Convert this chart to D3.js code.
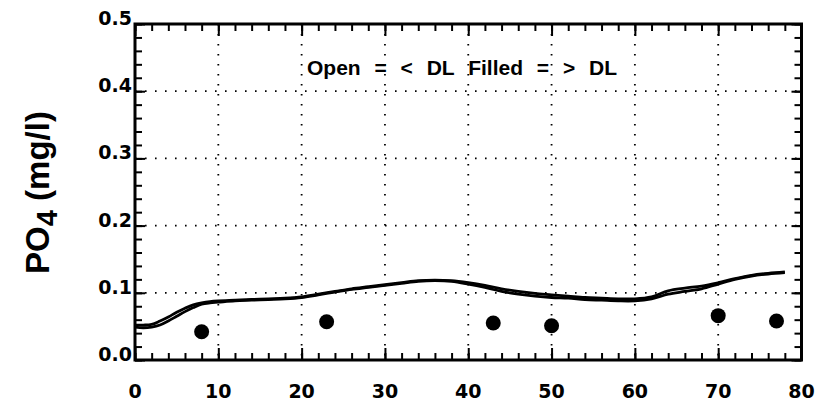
<!DOCTYPE html>
<html>
<head>
<meta charset="utf-8">
<script src="https://cdn.jsdelivr.net/npm/d3@7"></script>
<style>
  body { margin: 0; background: #fff; }
  svg { display: block; }
</style>
</head>
<body>
<svg id="chart" width="825" height="409"></svg>
<script>
// Distance along the profile and modelled PO4 (mg/l), two overlapping model runs
const distance = [0, 1, 2, 3, 4, 5, 6, 7, 8, 9, 10, 12, 14, 16, 18, 20, 22, 24, 26, 28, 30,
  32, 34, 36, 38, 40, 42, 44, 46, 48, 50, 52, 54, 56, 58, 60, 62, 64, 66, 68, 70, 72, 74, 76, 78];
const po4RunA = [0.052, 0.052, 0.053, 0.058, 0.064, 0.071, 0.077, 0.082, 0.085, 0.087, 0.088, 0.089, 0.090, 0.091, 0.092,
  0.094, 0.098, 0.102, 0.106, 0.109, 0.112, 0.115, 0.118, 0.119, 0.118, 0.115, 0.111, 0.106, 0.102, 0.099,
  0.097, 0.095, 0.093, 0.092, 0.091, 0.091, 0.094, 0.103, 0.107, 0.110, 0.115, 0.121, 0.126, 0.129, 0.131];
const po4RunB = [0.049, 0.048, 0.049, 0.052, 0.058, 0.065, 0.072, 0.078, 0.083, 0.085, 0.086, 0.088, 0.089, 0.090, 0.091,
  0.093, 0.097, 0.101, 0.105, 0.108, 0.111, 0.114, 0.117, 0.118, 0.117, 0.113, 0.108, 0.102, 0.098, 0.095,
  0.093, 0.092, 0.090, 0.089, 0.088, 0.088, 0.091, 0.098, 0.102, 0.106, 0.113, 0.120, 0.125, 0.128, 0.130];

// Measured samples (all above detection limit)
const sampleDistance = [8, 23, 43, 50, 70, 77];
const samplePO4 = [0.042, 0.057, 0.055, 0.051, 0.066, 0.058];

// Axis ticks and labels
const xTicks = [0, 10, 20, 30, 40, 50, 60, 70, 80];
const yTicks = [0, 0.1, 0.2, 0.3, 0.4, 0.5];
const yTickLabels = ["0.0", "0.1", "0.2", "0.3", "0.4", "0.5"];
const xGrid = [10, 20, 30, 40, 50, 60, 70];
const yGrid = [0.1, 0.2, 0.3, 0.4];

const svg = d3.select("#chart");
const plotLeft = 135, plotRight = 801.5, plotTop = 24, plotBottom = 360;

const x = d3.scaleLinear().domain([0, 80]).range([plotLeft, plotRight]);
const y = d3.scaleLinear().domain([0, 0.5]).range([plotBottom, plotTop]);

svg.append("rect").attr("width", 825).attr("height", 409).attr("fill", "#fff");

// dotted grid
const grid = svg.append("g").attr("stroke", "#000").attr("stroke-width", 1.8)
  .attr("stroke-dasharray", "1.6 8.4").attr("fill", "none");
grid.selectAll("line.gx").data(xGrid).join("line").attr("class", "gx")
  .attr("x1", d => x(d)).attr("x2", d => x(d)).attr("y1", plotTop).attr("y2", plotBottom);
grid.selectAll("line.gy").data(yGrid).join("line").attr("class", "gy")
  .attr("y1", d => y(d)).attr("y2", d => y(d)).attr("x1", plotLeft).attr("x2", plotRight);

// inward ticks on all four sides
const xMinor = d3.range(0, 81, 2);
const yMinor = d3.range(0, 0.501, 0.02);
function ticks(axisFn, scale, values, size, tx, ty) {
  const g = svg.append("g").attr("transform", `translate(${tx},${ty})`)
    .call(axisFn(scale).tickValues(values).tickSize(size).tickFormat(""));
  g.select(".domain").remove();
  g.selectAll(".tick line").attr("stroke", "#000").attr("stroke-width", 2);
}
ticks(d3.axisBottom, x, xMinor, -7, 0, plotBottom);
ticks(d3.axisBottom, x, xTicks, -12, 0, plotBottom);
ticks(d3.axisTop, x, xMinor, -7, 0, plotTop);
ticks(d3.axisTop, x, xTicks, -12, 0, plotTop);
ticks(d3.axisLeft, y, yMinor, -7, plotLeft, 0);
ticks(d3.axisLeft, y, yTicks, -10, plotLeft, 0);
ticks(d3.axisRight, y, yMinor, -7, plotRight, 0);
ticks(d3.axisRight, y, yTicks, -10, plotRight, 0);

// plot frame
svg.append("rect").attr("x", plotLeft).attr("y", plotTop)
  .attr("width", plotRight - plotLeft).attr("height", plotBottom - plotTop)
  .attr("fill", "none").attr("stroke", "#000").attr("stroke-width", 3);

// tick labels
const labelFont = "'DejaVu Sans', sans-serif";
svg.append("g").selectAll("text").data(xTicks).join("text")
  .attr("x", d => x(d)).attr("y", 398).attr("text-anchor", "middle")
  .attr("font-family", labelFont).attr("font-weight", "bold").attr("font-size", 19)
  .text(d => d);
svg.append("g").selectAll("text").data(yTicks).join("text")
  .attr("x", plotLeft - 3).attr("y", d => y(d) + 1).attr("text-anchor", "end")
  .attr("font-family", labelFont).attr("font-weight", "bold").attr("font-size", 19)
  .text((d, i) => yTickLabels[i]);

// y-axis title
const title = svg.append("text")
  .attr("transform", `translate(49,${(110 + 275) / 2}) rotate(-90)`)
  .attr("text-anchor", "middle")
  .attr("font-family", "'Liberation Sans', Arial, sans-serif")
  .attr("font-weight", "bold").attr("font-size", 33);
title.append("tspan").text("PO");
title.append("tspan").attr("font-size", 29).attr("dy", 8).text("4");
title.append("tspan").attr("dy", -8).text(" (mg/l)");

// legend note
svg.append("text")
  .attr("x", 307).attr("y", 75)
  .attr("font-family", "'Liberation Sans', Arial, sans-serif")
  .attr("font-weight", "bold").attr("font-size", 21)
  .attr("word-spacing", 8)
  .text("Open = < DL Filled = > DL");

// model lines
const line = d3.line().x((d, i) => x(distance[i])).y(d => y(d)).curve(d3.curveCatmullRom);
[po4RunA, po4RunB].forEach(run => {
  svg.append("path").datum(run).attr("d", line)
    .attr("fill", "none").attr("stroke", "#000").attr("stroke-width", 2.8)
    .attr("stroke-linejoin", "round");
});

// samples
svg.append("g").selectAll("circle").data(samplePO4).join("circle")
  .attr("cx", (d, i) => x(sampleDistance[i])).attr("cy", d => y(d))
  .attr("r", 7.5).attr("fill", "#000");
</script>
</body>
</html>
